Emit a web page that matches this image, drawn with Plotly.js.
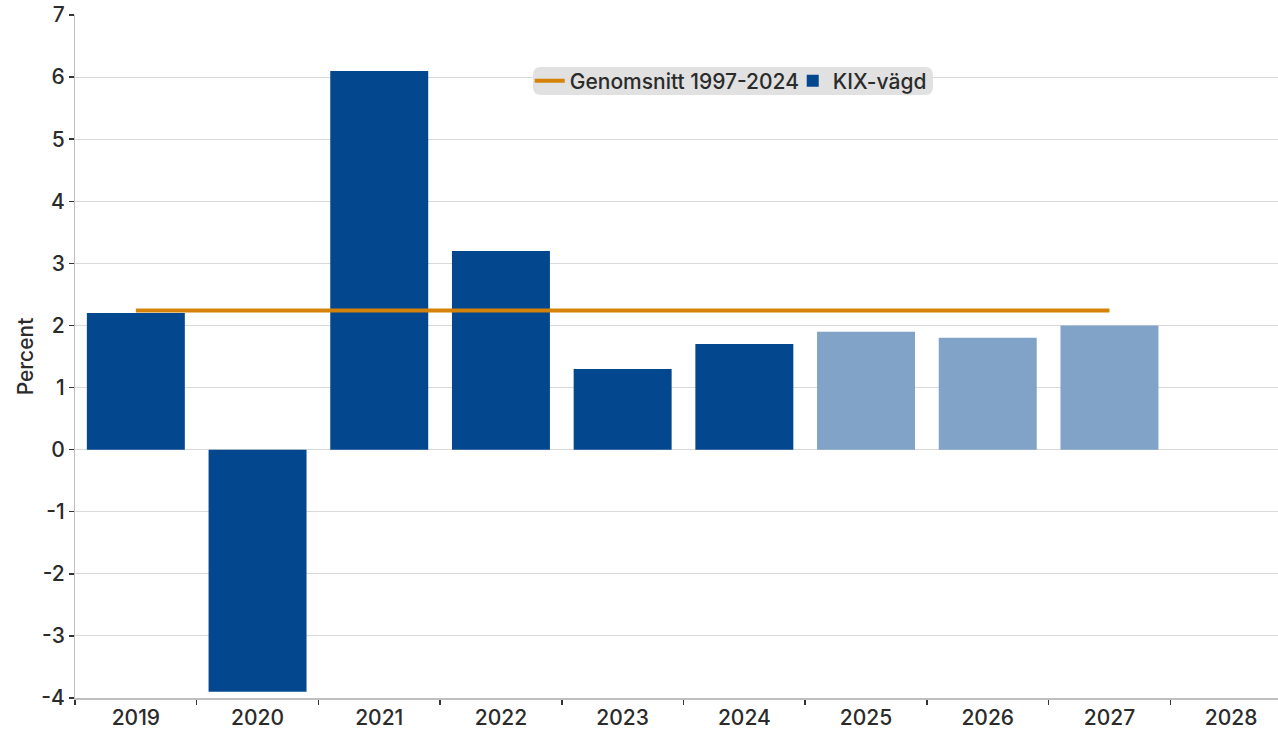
<!DOCTYPE html>
<html>
<head>
<meta charset="utf-8">
<script src="https://cdn.plot.ly/plotly-3.0.1.min.js"></script>
<style>html,body{margin:0;padding:0;background:#fff;}#chart{width:1278px;height:729px;}</style>
</head>
<body>
<div id="chart"></div>
<script>
const categories = ['2019','2020','2021','2022','2023','2024','2025','2026','2027','2028'];
const barYears = ['2019','2020','2021','2022','2023','2024','2025','2026','2027'];
const kixValues = [2.2, -3.9, 6.1, 3.2, 1.3, 1.7, 1.9, 1.8, 2.0];
const firstForecastYear = 2025;
const avgX = ['2019','2027'];
const avgY = [2.24, 2.24];
const yTicks = [-4,-3,-2,-1,0,1,2,3,4,5,6,7];

const dark = '#03478E', light = '#81A3C7';
const barColors = barYears.map(y => (+y >= firstForecastYear ? light : dark));

const fam = 'Inter, "Open Sans", sans-serif';
const txt = '#2b2b2b';
const f = {family: fam, size:21, color: txt, weight:500};

const traces = [
  {type:'bar', x: barYears, y: kixValues, name:'KIX-vägd', legendrank: 2,
   marker:{color: barColors, line:{width:0}}},
  {type:'scatter', mode:'lines', x: avgX, y: avgY, name:'Genomsnitt 1997-2024', legendrank: 1,
   line:{color:'#D4820A', width:4}}
];

const layout = {
  width:1278, height:729,
  margin:{l:75, r:0, t:15, b:31},
  paper_bgcolor:'#ffffff', plot_bgcolor:'#ffffff',
  font: f,
  bargap: 0.195,
  showlegend: true,
  legend:{orientation:'h', x:0.378, y:0.9034, xanchor:'left', yanchor:'middle',
          bgcolor:'rgba(0,0,0,0)', font: f,
          itemwidth:30, entrywidth:218, entrywidthmode:'pixels'},
  shapes:[{type:'path', xref:'paper', yref:'paper', layer:'above',
    path:'M 0.3874,0.9239 L 0.7066,0.9239 Q 0.7132,0.9239 0.7132,0.9122 L 0.7132,0.8946 Q 0.7132,0.8829 0.7066,0.8829 L 0.3874,0.8829 Q 0.3807,0.8829 0.3807,0.8946 L 0.3807,0.9122 Q 0.3807,0.9239 0.3874,0.9239 Z',
    fillcolor:'#e1e1e1', line:{width:0}}],
  xaxis:{type:'category', categoryarray: categories, categoryorder:'array',
    range:[-0.5, 9.385], showgrid:false, zeroline:false,
    showline:true, linecolor:'#bfbfbf', linewidth:1.5,
    ticks:'outside', tickson:'boundaries', ticklen:5, tickcolor:'#333333', tickwidth:1.5,
    tickfont: f},
  yaxis:{range:[-4, 7], tickvals: yTicks, ticktext: yTicks.map(String),
    showgrid:true, gridcolor:'#d9d9d9', gridwidth:1, zeroline:false,
    showline:true, linecolor:'#bfbfbf', linewidth:1,
    ticks:'outside', ticklen:5, tickcolor:'#333333', tickwidth:1.5,
    tickfont: f,
    title:{text:'Percent', font: f, standoff:1}}
};

Plotly.newPlot('chart', traces, layout, {displayModeBar:false, staticPlot:true});
</script>
</body>
</html>
